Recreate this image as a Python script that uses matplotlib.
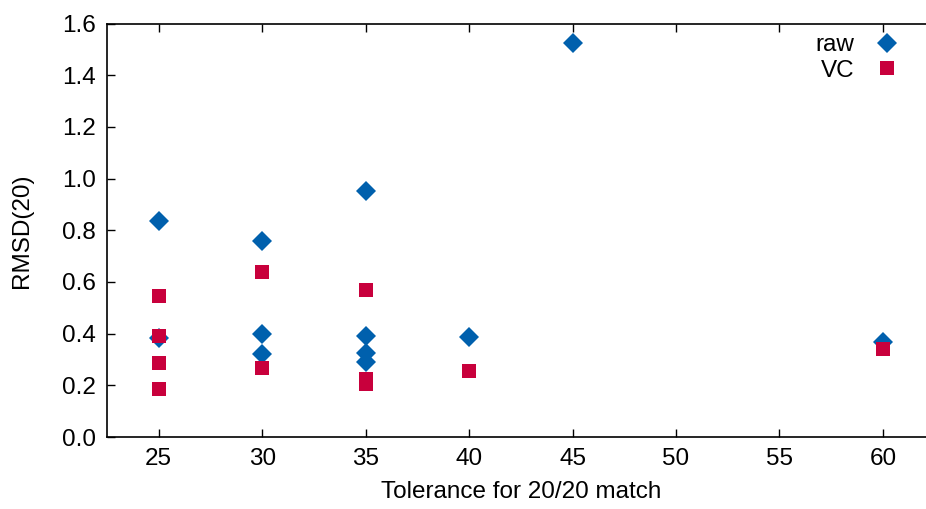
import matplotlib
matplotlib.use("Agg")
import matplotlib.pyplot as plt

plt.rcParams['font.family'] = ['Liberation Sans', 'DejaVu Sans']

# raw values (blue diamonds)
raw_x = [25, 25, 30, 30, 30, 35, 35, 35, 35, 40, 45, 60]
raw_y = [0.835, 0.384, 0.76, 0.399, 0.322, 0.95, 0.39, 0.326, 0.29, 0.387, 1.523, 0.366]

# VC values (red squares)
vc_x = [25, 25, 25, 25, 30, 30, 35, 35, 35, 40, 60]
vc_y = [0.547, 0.391, 0.287, 0.186, 0.64, 0.267, 0.57, 0.225, 0.205, 0.257, 0.341]

xticks = [25, 30, 35, 40, 45, 50, 55, 60]
yticks = [0.0, 0.2, 0.4, 0.6, 0.8, 1.0, 1.2, 1.4, 1.6]

fs = 17.5

fig = plt.figure(figsize=(9.26, 5.09), dpi=100)
ax = fig.add_axes([107/926, 72/509, 827.6/926, 413.5/509])

ax.plot(raw_x, raw_y, linestyle='none', marker='D', markersize=10.2,
        color='#0060ad', markeredgewidth=0, label='raw')
ax.plot(vc_x, vc_y, linestyle='none', marker='s', markersize=9.4,
        color='#c8003c', markeredgewidth=0, label='VC')

ax.set_xlim(22.5, 62.5)
ax.set_ylim(0, 1.6)
ax.set_xticks(xticks)
ax.set_yticks(yticks)
ax.set_yticklabels(['%.1f' % v for v in yticks])
ax.tick_params(direction='in', length=6, width=1, top=True, right=True,
               labelsize=fs, pad=8)
for s in ax.spines.values():
    s.set_linewidth(1.2)

ax.set_xlabel('Tolerance for 20/20 match', fontsize=fs, labelpad=8)
ax.set_ylabel('RMSD(20)', fontsize=fs, labelpad=21)

ax.legend(loc='upper right', bbox_to_anchor=(0.969, 0.998), frameon=False,
          markerfirst=False, fontsize=fs, handletextpad=0.85,
          labelspacing=0.15, handlelength=1.0, borderaxespad=0.0)

fig.savefig('out.png', dpi=100)
